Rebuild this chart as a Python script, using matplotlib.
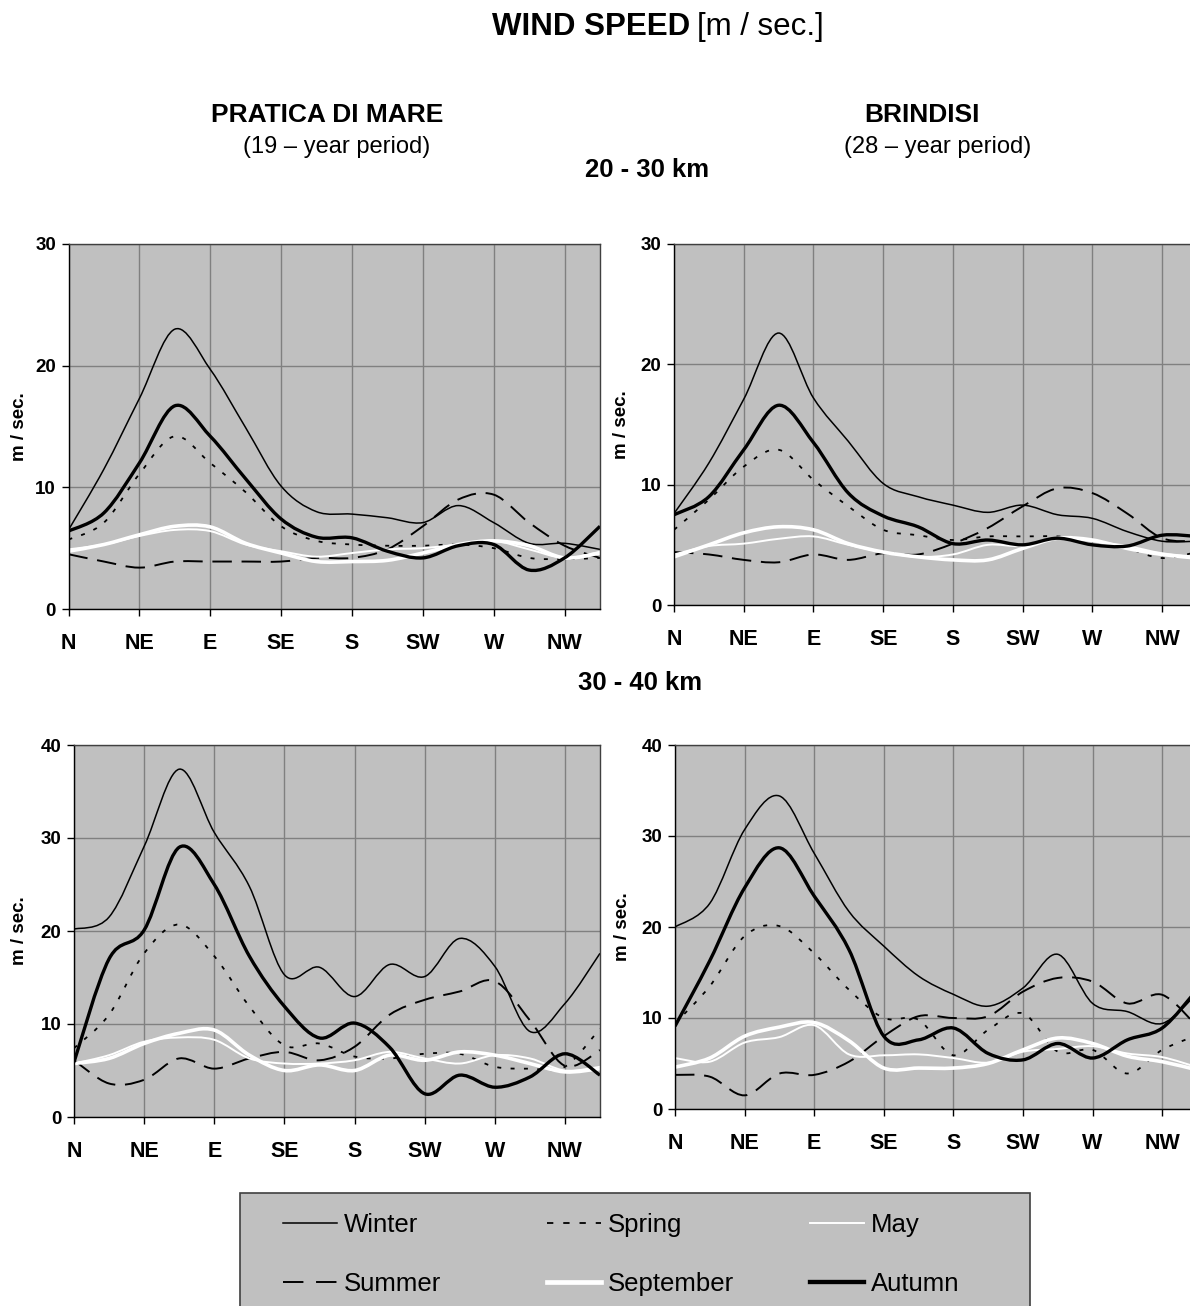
import matplotlib
matplotlib.use("Agg")
import matplotlib.pyplot as plt
from matplotlib.path import Path
from matplotlib.patches import PathPatch, Rectangle
from matplotlib.lines import Line2D
from matplotlib import font_manager

names = {f.name for f in font_manager.fontManager.ttflist}
FONT = 'Liberation Sans Narrow' if 'Liberation Sans Narrow' in names else 'Liberation Sans'
plt.rcParams['font.family'] = [FONT, 'DejaVu Sans']

# ---------------- data ----------------
DIRECTIONS = ['N', 'NE', 'E', 'SE', 'S', 'SW', 'W', 'NW']
# 16-point compass positions (N, NNE, NE, ... NNW) in units of the 8 labelled directions
POS = [0, 0.5, 1, 1.5, 2, 2.5, 3, 3.5, 4, 4.5, 5, 5.5, 6, 6.5, 7, 7.5]

# Pratica di Mare, 20-30 km
PM1_WINTER = [6.5, 11.5, 17.3, 23.0, 19.7, 14.9, 10.1, 8.0, 7.8, 7.5, 7.1, 8.5, 7.1, 5.4, 5.4, 4.9]
PM1_SPRING = [5.7, 7.1, 11.1, 14.2, 12.0, 9.6, 6.8, 5.6, 5.3, 5.2, 5.2, 5.3, 5.0, 4.2, 4.1, 4.2]
PM1_SUMMER = [4.5, 3.9, 3.4, 3.9, 3.9, 3.9, 3.9, 4.2, 4.2, 4.9, 6.8, 9.0, 9.4, 7.1, 5.2, 4.2]
PM1_AUTUMN = [6.4, 7.9, 12.0, 16.7, 14.2, 10.7, 7.4, 5.9, 5.85, 4.75, 4.2, 5.2, 5.3, 3.2, 4.2, 6.8]
PM1_MAY = [4.9, 5.3, 6.0, 6.5, 6.4, 5.3, 4.75, 4.3, 4.6, 4.9, 5.0, 5.3, 5.6, 4.9, 4.2, 4.7]
PM1_SEPT = [4.75, 5.3, 6.1, 6.8, 6.75, 5.4, 4.6, 3.9, 3.9, 4.0, 4.6, 5.3, 5.6, 5.2, 4.2, 4.6]

# Brindisi, 20-30 km
BR1_WINTER = [7.6, 11.8, 17.1, 22.6, 17.2, 13.6, 10.1, 9.0, 8.3, 7.7, 8.3, 7.5, 7.2, 6.1, 5.3, 5.3]
BR1_SPRING = [6.25, 8.75, 11.5, 12.9, 10.4, 8.2, 6.25, 5.8, 5.4, 5.7, 5.7, 5.7, 5.4, 4.7, 3.9, 4.4]
BR1_SUMMER = [4.4, 4.2, 3.75, 3.55, 4.2, 3.75, 4.3, 4.2, 5.1, 6.4, 8.2, 9.7, 9.3, 7.6, 5.55, 5.3]
BR1_AUTUMN = [7.5, 9.0, 12.9, 16.6, 13.5, 9.3, 7.4, 6.5, 5.1, 5.4, 5.0, 5.55, 5.0, 4.9, 5.8, 5.7]
BR1_MAY = [4.2, 4.9, 5.1, 5.5, 5.7, 5.0, 4.4, 4.0, 4.2, 5.0, 4.9, 5.55, 5.3, 4.9, 4.3, 4.0]
BR1_SEPT = [4.0, 5.0, 6.0, 6.5, 6.25, 5.1, 4.4, 4.0, 3.75, 3.75, 4.7, 5.55, 5.4, 4.7, 4.2, 3.9]

# Pratica di Mare, 30-40 km
PM2_WINTER = [20.2, 21.5, 29.1, 37.4, 30.6, 24.8, 15.3, 16.1, 12.95, 16.4, 15.1, 19.2, 16.2, 9.2, 12.2, 17.6]
PM2_SPRING = [7.4, 11.0, 17.6, 20.7, 17.3, 11.9, 7.7, 7.9, 6.5, 6.3, 6.8, 6.8, 5.4, 5.2, 5.4, 9.5]
PM2_SUMMER = [6.1, 3.6, 4.0, 6.3, 5.2, 6.3, 7.0, 6.1, 7.55, 11.0, 12.6, 13.5, 14.6, 10.4, 5.5, 7.2]
PM2_AUTUMN = [5.9, 17.0, 20.1, 29.0, 25.0, 17.3, 11.9, 8.5, 10.1, 7.5, 2.5, 4.5, 3.2, 4.3, 6.8, 4.5]
PM2_MAY = [5.75, 6.65, 8.1, 8.55, 8.3, 6.3, 5.75, 5.75, 6.1, 7.0, 6.3, 5.75, 6.65, 6.3, 5.0, 5.4]
PM2_SEPT = [5.75, 6.3, 7.9, 9.0, 9.35, 6.65, 5.0, 5.6, 5.0, 6.65, 6.1, 7.0, 6.65, 5.75, 4.85, 5.2]

# Brindisi, 30-40 km
BR2_WINTER = [20.0, 22.6, 30.7, 34.4, 28.1, 21.7, 17.9, 14.6, 12.6, 11.3, 13.3, 17.0, 11.6, 10.7, 9.4, 12.7]
BR2_SPRING = [9.4, 13.5, 19.0, 20.1, 17.1, 13.1, 10.0, 9.8, 5.9, 8.7, 10.5, 6.3, 6.5, 3.9, 6.5, 8.1]
BR2_SUMMER = [3.75, 3.55, 1.5, 3.9, 3.75, 5.2, 8.0, 10.2, 10.0, 10.2, 12.9, 14.4, 14.0, 11.6, 12.55, 9.1]
BR2_AUTUMN = [9.1, 16.3, 24.3, 28.7, 23.4, 17.5, 8.0, 7.6, 8.9, 6.1, 5.4, 7.2, 5.6, 7.6, 8.9, 13.1]
BR2_MAY = [5.6, 5.2, 7.3, 7.9, 9.2, 6.0, 5.9, 6.0, 5.6, 5.1, 6.3, 6.6, 6.9, 6.1, 5.7, 4.6]
BR2_SEPT = [4.6, 5.6, 8.0, 9.0, 9.5, 7.5, 4.5, 4.5, 4.5, 5.0, 6.5, 7.8, 7.2, 5.8, 5.2, 4.3]

# ---------------- styles ----------------
STYLE = {
    'Winter':    dict(color='black', lw=1.1, ls='-'),
    'Spring':    dict(color='black', lw=1.3, ls=(0, (2.2, 5.2))),
    'May':       dict(color='white', lw=1.4, ls='-'),
    'Summer':    dict(color='black', lw=1.4, ls=(0, (10, 5))),
    'September': dict(color='white', lw=2.6, ls='-'),
    'Autumn':    dict(color='black', lw=2.4, ls='-'),
}
LEGEND_LS = {'Spring': (0, (3.5, 5.5)), 'Summer': (0, (10.5, 6.5))}
DRAW_ORDER = ['Summer', 'Spring', 'Winter', 'May', 'September', 'Autumn']
BG = '#c0c0c0'
GRID = '#808080'

W, H = 1190, 1306
fig = plt.figure(figsize=(W / 100, H / 100), dpi=100)


def smooth_patch(xs, ys, style):
    """Smoothed (Catmull-Rom style) line drawn as a Bezier path through the data points."""
    n = len(xs)
    verts = [(xs[0], ys[0])]
    codes = [Path.MOVETO]
    for i in range(n - 1):
        p0 = max(i - 1, 0)
        p3 = min(i + 2, n - 1)
        c1 = (xs[i] + (xs[i + 1] - xs[p0]) / 6.0, ys[i] + (ys[i + 1] - ys[p0]) / 6.0)
        c2 = (xs[i + 1] - (xs[p3] - xs[i]) / 6.0, ys[i + 1] - (ys[p3] - ys[i]) / 6.0)
        verts += [c1, c2, (xs[i + 1], ys[i + 1])]
        codes += [Path.CURVE4] * 3
    return PathPatch(Path(verts, codes), fill=False, edgecolor=style['color'],
                     lw=style['lw'], ls=style['ls'], capstyle='butt', joinstyle='round')


def px_axes(left, top, right, bottom):
    return fig.add_axes([left / W, 1 - bottom / H, (right - left) / W, (bottom - top) / H])


PANELS = [
    # (rect in pixels, ymax, series dict, ylabel x in axes coords)
    ((68.5, 244, 600, 609), 30,
     dict(Winter=PM1_WINTER, Spring=PM1_SPRING, May=PM1_MAY, Summer=PM1_SUMMER,
          September=PM1_SEPT, Autumn=PM1_AUTUMN), -0.076),
    ((674, 244, 1197, 605), 30,
     dict(Winter=BR1_WINTER, Spring=BR1_SPRING, May=BR1_MAY, Summer=BR1_SUMMER,
          September=BR1_SEPT, Autumn=BR1_AUTUMN), -0.084),
    ((74, 745, 600, 1117), 40,
     dict(Winter=PM2_WINTER, Spring=PM2_SPRING, May=PM2_MAY, Summer=PM2_SUMMER,
          September=PM2_SEPT, Autumn=PM2_AUTUMN), -0.0875),
    ((675, 745, 1197, 1109), 40,
     dict(Winter=BR2_WINTER, Spring=BR2_SPRING, May=BR2_MAY, Summer=BR2_SUMMER,
          September=BR2_SEPT, Autumn=BR2_AUTUMN), -0.084),
]

for rect, ymax, series, ylx in PANELS:
    ax = px_axes(*rect)
    ax.set_facecolor(BG)
    ax.set_xlim(0, 7.5)
    ax.set_ylim(0, ymax)
    ax.set_xticks(range(len(DIRECTIONS)))
    ax.set_xticklabels(DIRECTIONS, fontsize=15.5, fontweight='bold')
    ax.set_yticks(range(0, ymax + 1, 10))
    ax.set_yticklabels([str(v) for v in range(0, ymax + 1, 10)], fontsize=13.5, fontweight='bold')
    ax.tick_params(axis='x', direction='out', length=5, width=1, pad=12, color='black')
    ax.tick_params(axis='y', direction='out', length=5, width=1, pad=4, color='black')
    ax.grid(True, color=GRID, lw=1.0)
    ax.set_axisbelow(True)
    for sp in ax.spines.values():
        sp.set_color('black')
        sp.set_linewidth(1.0)
    ax.spines['top'].set_color('#404040')
    ax.spines['right'].set_color('#404040')
    ax.set_ylabel('m / sec.', fontsize=13.5, fontweight='bold')
    ax.yaxis.set_label_coords(ylx, 0.5)
    for name in DRAW_ORDER:
        ax.add_patch(smooth_patch(POS, series[name], STYLE[name]))

# ---------------- titles ----------------
fig.text(690 / W, 1 - 27 / H, 'WIND SPEED', ha='right', va='center', fontsize=22.5, fontweight='bold')
fig.text(697 / W, 1 - 27 / H, '[m / sec.]', ha='left', va='center', fontsize=22.5)
fig.text(327 / W, 1 - 115 / H, 'PRATICA DI MARE', ha='center', va='center', fontsize=19, fontweight='bold')
fig.text(337 / W, 1 - 147 / H, '(19 \u2013 year period)', ha='center', va='center', fontsize=17)
fig.text(922 / W, 1 - 115 / H, 'BRINDISI', ha='center', va='center', fontsize=19, fontweight='bold')
fig.text(938 / W, 1 - 147 / H, '(28 \u2013 year period)', ha='center', va='center', fontsize=17)
fig.text(647 / W, 1 - 170 / H, '20 - 30 km', ha='center', va='center', fontsize=18.5, fontweight='bold')
fig.text(640 / W, 1 - 683 / H, '30 - 40 km', ha='center', va='center', fontsize=18.5, fontweight='bold')

# ---------------- legend ----------------
fig.patches.append(Rectangle((240 / W, -0.01), (1030 - 240) / W, (1 - 1193 / H) + 0.01,
                             transform=fig.transFigure, facecolor=BG, edgecolor='#404040',
                             lw=1.2, zorder=0))
LEGEND_COLS = [(['Winter', 'Summer'], 283), (['Spring', 'September'], 547), (['May', 'Autumn'], 810)]
for names_col, xpx in LEGEND_COLS:
    handles = [Line2D([], [], color=STYLE[n]['color'],
                      lw=STYLE[n]['lw'] * (1.3 if n in ('September', 'Autumn') else 1.0),
                      ls=LEGEND_LS.get(n, STYLE[n]['ls'])) for n in names_col]
    fig.legend(handles, names_col, loc='upper left',
               bbox_to_anchor=(xpx / W, 1 - 1213 / H), frameon=False,
               fontsize=18.5, handlelength=2.1, handletextpad=0.27,
               labelspacing=1.35, borderpad=0, borderaxespad=0)

fig.savefig('out.png', dpi=100)
